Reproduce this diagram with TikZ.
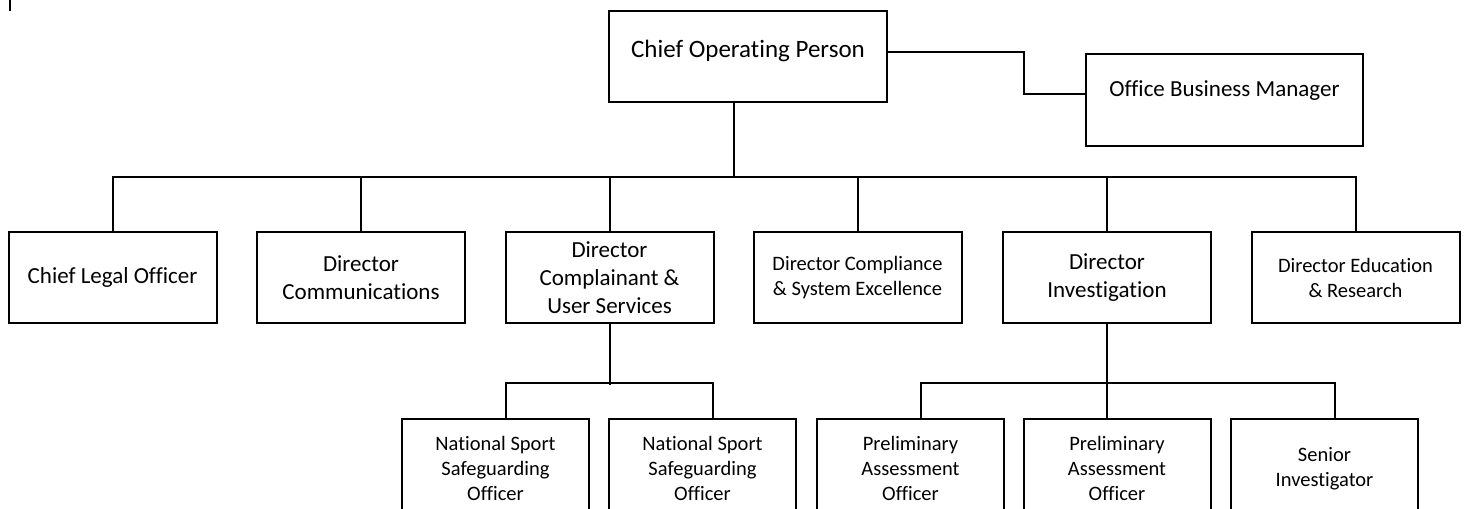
\documentclass[tikz,border=0pt]{standalone}
\usepackage{fontspec}
\setmainfont[Ligatures=NoCommon]{Carlito}
\begin{document}
\begin{tikzpicture}[x=0.5pt,y=-0.5pt,line width=1pt,
  box/.style={draw,rectangle,align=center,minimum width=104pt,minimum height=45.5pt,inner sep=1pt},
  subbox/.style={box,minimum width=93.5pt,minimum height=50pt},
  bigfont/.style={font=\fontsize{11.5}{14}\selectfont},
  smallfont/.style={font=\fontsize{10.25}{12.5}\selectfont}]
\useasboundingbox (0,0) rectangle (1465,508);
\clip (0,0) rectangle (1465,508);

\coordinate (mtop) at (10,0);
\coordinate (mbot) at (10,11);
\draw (mtop) -- (mbot);

\node[box,minimum width=139pt,font=\fontsize{12.5}{15}\selectfont,text depth=8pt] (cop) at (748,56.5) {Chief Operating Person};
\node[box,minimum width=138.5pt,bigfont,text depth=11pt] (obm) at (1224.5,100) {Office Business Manager};

\node[box,bigfont] (clo) at (112.5,277.5) {Chief Legal Officer};
\node[box,bigfont] (dcom) at (361,277.5) {Director\\Communications};
\node[box,bigfont] (dcus) at (609.5,277.5) {Director\\Complainant \&\\User Services};
\node[box,smallfont] (dcse) at (857.5,277.5) {Director Compliance\\\& System Excellence};
\node[box,bigfont] (dinv) at (1107,277.5) {Director\\Investigation};
\node[box,smallfont] (dedu) at (1355.5,277.5) {Director Education\\\& Research};

\node[subbox,smallfont] (nss1) at (495.5,468.5) {National Sport\\Safeguarding\\Officer};
\node[subbox,smallfont] (nss2) at (702.5,468.5) {National Sport\\Safeguarding\\Officer};
\node[subbox,smallfont] (pa1) at (910.5,468.5) {Preliminary\\Assessment\\Officer};
\node[subbox,smallfont] (pa2) at (1117,468.5) {Preliminary\\Assessment\\Officer};
\node[subbox,smallfont] (si) at (1324.5,468.5) {Senior\\Investigator};

% top level
\coordinate (elbow1) at (1024,52);
\coordinate (elbow2) at (1024,94);
\draw (cop.east |- elbow1) -- (elbow1) -- (elbow2) -- (obm.west |- elbow2);
\coordinate (bus) at (734,176.5);
\draw (cop.south -| bus) -- (bus);
\draw (clo.north) |- (bus) -| (dedu.north);
\foreach \n in {dcom,dcus,dcse,dinv}
  \draw (\n.north) -- (\n.north |- bus);

% second level
\draw (dcus.south) -- ++(0,61);
\draw ([xshift=5.25pt]nss1.north) -- ++(0,-34.5) -| ([xshift=5.25pt]nss2.north);
\draw (dinv.south) -- (pa2.north -| dinv.south);
\draw ([xshift=5.25pt]pa1.north) -- ++(0,-34.5) -| ([xshift=5.25pt]si.north);
\end{tikzpicture}
\end{document}
